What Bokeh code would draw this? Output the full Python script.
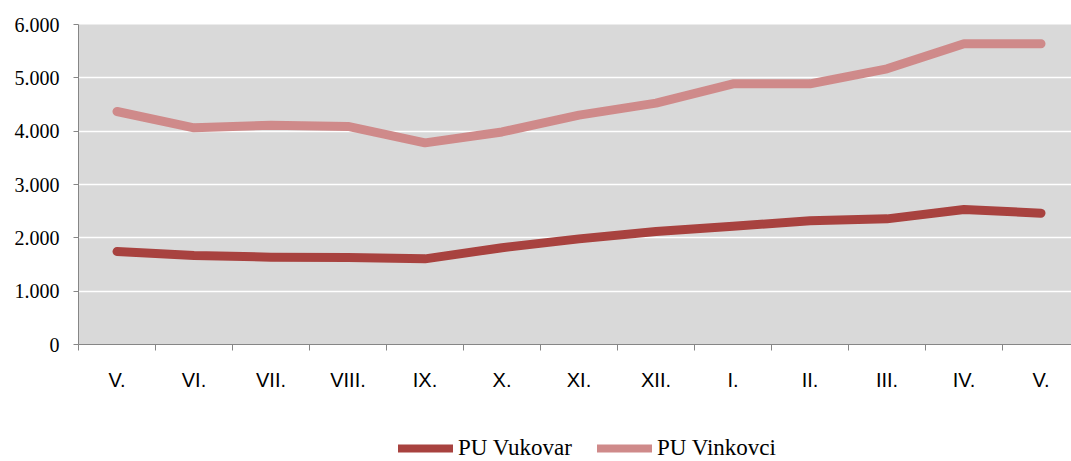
from bokeh.plotting import figure
from bokeh.models import FixedTicker, Legend, LegendItem, ColumnDataSource
from bokeh.layouts import column
from bokeh.embed import file_html
from bokeh.resources import INLINE

months = ["V.", "VI.", "VII.", "VIII.", "IX.", "X.", "XI.", "XII.", "I.", "II.", "III.", "IV.", "V."]
vukovar = [1744, 1669, 1638, 1631, 1606, 1815, 1981, 2119, 2219, 2319, 2356, 2531, 2463]
vinkovci = [4369, 4063, 4113, 4088, 3781, 3985, 4300, 4525, 4888, 4888, 5169, 5638, 5638]
y_ticks = [0, 1000, 2000, 3000, 4000, 5000, 6000]
y_tick_labels = ["0", "1.000", "2.000", "3.000", "4.000", "5.000", "6.000"]
series_names = ["PU Vukovar", "PU Vinkovci"]
series_colors = ["#A8423F", "#CF8A8A"]

xs = list(range(len(months)))
src = ColumnDataSource(dict(x=xs, vuk=vukovar, vin=vinkovci))

p = figure(width=1071, height=400, output_backend="svg", toolbar_location=None,
           x_range=(-0.5, 12.396), y_range=(0, 6000),
           min_border_left=78, min_border_right=0, min_border_top=24, min_border_bottom=56)
p.background_fill_color = "#D9D9D9"
p.border_fill_color = "white"
p.outline_line_color = None

p.xgrid.grid_line_color = None
p.ygrid.grid_line_color = "white"
p.ygrid.grid_line_width = 1.5
p.ygrid.ticker = FixedTicker(ticks=y_ticks)

# Y axis
p.yaxis.ticker = FixedTicker(ticks=y_ticks, minor_ticks=[])
p.yaxis.major_label_overrides = {t: l for t, l in zip(y_ticks, y_tick_labels)}
p.yaxis.axis_line_color = "#868686"
p.yaxis.major_tick_line_color = "#868686"
p.yaxis.major_tick_out = 5
p.yaxis.major_tick_in = 0
p.yaxis.minor_tick_line_color = None
p.yaxis.major_label_text_font = "Liberation Serif"
p.yaxis.major_label_text_font_size = "20px"
p.yaxis.major_label_text_color = "black"
p.yaxis.major_label_standoff = 14

# X axis
p.xaxis.ticker = FixedTicker(ticks=xs, minor_ticks=[i - 0.5 for i in range(13)])
p.xaxis.major_label_overrides = {i: m for i, m in enumerate(months)}
p.xaxis.axis_line_color = "#868686"
p.xaxis.major_tick_line_color = None
p.xaxis.major_tick_out = 0
p.xaxis.major_tick_in = 0
p.xaxis.minor_tick_line_color = "#868686"
p.xaxis.minor_tick_out = 6
p.xaxis.minor_tick_in = 0
p.xaxis.major_label_text_font = "Liberation Sans"
p.xaxis.major_label_text_font_size = "20px"
p.xaxis.major_label_text_color = "black"
p.xaxis.major_label_standoff = 18

p.line("x", "vuk", source=src, line_color=series_colors[0], line_width=9,
       line_cap="round", line_join="round")
p.line("x", "vin", source=src, line_color=series_colors[1], line_width=9,
       line_cap="round", line_join="round")

# Legend strip below the chart
pl = figure(width=1071, height=61, output_backend="svg", toolbar_location=None,
            x_range=(0, 1), y_range=(0, 1), x_axis_location=None, y_axis_location=None,
            min_border_left=0, min_border_right=0, min_border_top=0, min_border_bottom=0)
pl.outline_line_color = None
pl.grid.grid_line_color = None
pl.background_fill_color = "white"

nan = float("nan")
legend_x = [398 - 78, 597 - 78]
for name, col, lx in zip(series_names, series_colors, legend_x):
    r = pl.line(x=[nan, nan], y=[nan, nan], line_color=col, line_width=8, line_cap="round")
    lg = Legend(items=[LegendItem(label=name, renderers=[r])], location=(lx, 0),
                orientation="horizontal", background_fill_alpha=0, border_line_alpha=0,
                padding=0, margin=0, glyph_width=55, glyph_height=16, label_height=16,
                label_standoff=5, label_text_font="Liberation Serif",
                label_text_font_size="23px", label_text_color="black")
    pl.add_layout(lg)

layout = column(p, pl, spacing=0)
open("out.html", "w").write(file_html(layout, INLINE))
